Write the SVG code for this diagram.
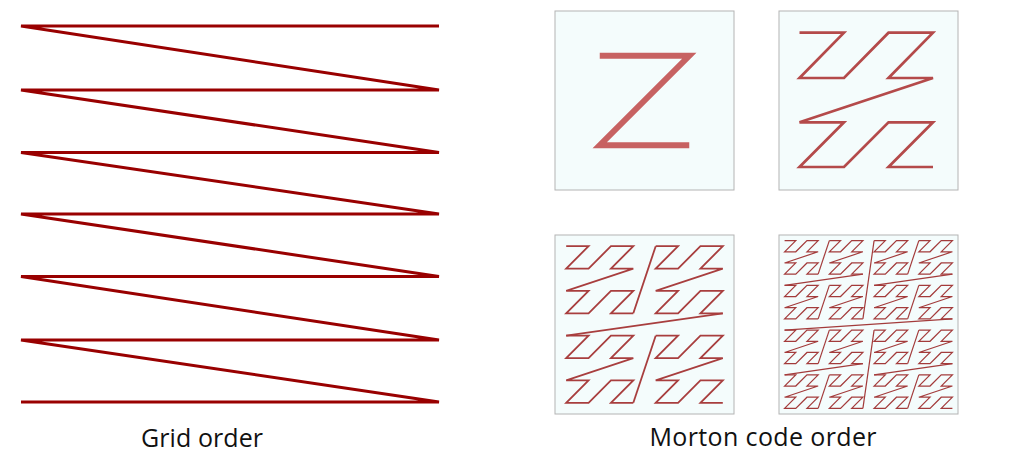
<svg xmlns="http://www.w3.org/2000/svg" xmlns:xlink="http://www.w3.org/1999/xlink" width="1012" height="456" viewBox="0 0 1012 456">
  <style>
    .grid { fill: none; stroke: #990000; stroke-width: 3; }
    .box { fill: #f4fcfc; stroke: #b4b4b4; stroke-width: 1; }
    .m1 { fill: none; stroke: #c76262; stroke-width: 6; stroke-linejoin: miter; }
    .m2 { fill: none; stroke: #b44a4a; stroke-width: 2.7; stroke-linejoin: miter; }
    .m3 { fill: none; stroke: #a83e3e; stroke-width: 1.8; stroke-linejoin: miter; }
    .m4 { fill: none; stroke: #a33b3b; stroke-width: 1.2; stroke-linejoin: miter; }
    .label { font-family: "Open Sans", "Noto Sans", "Liberation Sans", sans-serif; font-size: 25px; fill: #111111; }
  </style>
  <defs>
    <polyline id="b3" points="0,0 22.375,0 0,22.375 22.375,22.375 44.75,0 67.125,0 44.75,22.375 67.125,22.375 0,44.75 22.375,44.75 0,67.125 22.375,67.125 44.75,44.75 67.125,44.75 44.75,67.125 67.125,67.125"/>
    <polyline id="b4" points="0,0 11.1875,0 0,11.1875 11.1875,11.1875 22.375,0 33.5625,0 22.375,11.1875 33.5625,11.1875 0,22.375 11.1875,22.375 0,33.5625 11.1875,33.5625 22.375,22.375 33.5625,22.375 22.375,33.5625 33.5625,33.5625"/>
    <g id="g4">
      <use xlink:href="#b4"/>
      <use xlink:href="#b4" x="44.75"/>
      <use xlink:href="#b4" y="44.75"/>
      <use xlink:href="#b4" x="44.75" y="44.75"/>
      <line x1="33.5625" y1="33.5625" x2="44.75" y2="0"/>
      <line x1="78.3125" y1="33.5625" x2="0" y2="44.75"/>
      <line x1="33.5625" y1="78.3125" x2="44.75" y2="44.75"/>
    </g>
  </defs>
  <rect width="1012" height="456" fill="#ffffff"/>

  <g id="grid-order">
    <polyline class="grid" points="439,26 21,26 439,90 21,90 439,152.5 21,152.5 439,214 21,214 439,276.5 21,276.5 439,340 21,340 439,402 21,402"/>
    <text class="label" x="202" y="447" text-anchor="middle" textLength="122">Grid order</text>
  </g>

  <g id="morton-1">
    <rect class="box" x="555" y="11" width="179" height="179"/>
    <polyline class="m1" points="599.75,55.75 689.25,55.75 599.75,145.25 689.25,145.25"/>
  </g>

  <g id="morton-2">
    <rect class="box" x="779" y="11" width="179" height="179"/>
    <polyline class="m2" points="799.5,32.7 844,32.7 799.5,78 844,78 888.5,32.7 933,32.7 888.5,78 933,78 799.5,122.3 844,122.3 799.5,167 844,167 888.5,122.3 933,122.3 888.5,167 933,167"/>
  </g>

  <g id="morton-3">
    <rect class="box" x="555" y="235" width="179" height="179"/>
    <g class="m3" transform="translate(566.19,246.19)">
      <use xlink:href="#b3"/>
      <use xlink:href="#b3" x="89.5"/>
      <use xlink:href="#b3" y="89.5"/>
      <use xlink:href="#b3" x="89.5" y="89.5"/>
      <line x1="67.125" y1="67.125" x2="89.5" y2="0"/>
      <line x1="156.625" y1="67.125" x2="0" y2="89.5"/>
      <line x1="67.125" y1="156.625" x2="89.5" y2="89.5"/>
    </g>
  </g>

  <g id="morton-4">
    <rect class="box" x="779" y="235" width="179" height="179"/>
    <g class="m4" transform="translate(784.59,240.59)">
      <use xlink:href="#g4"/>
      <use xlink:href="#g4" x="89.5"/>
      <use xlink:href="#g4" y="89.5"/>
      <use xlink:href="#g4" x="89.5" y="89.5"/>
      <line x1="78.3125" y1="78.3125" x2="89.5" y2="0"/>
      <line x1="167.8125" y1="78.3125" x2="0" y2="89.5"/>
      <line x1="78.3125" y1="167.8125" x2="89.5" y2="89.5"/>
    </g>
  </g>

  <text class="label" x="763" y="446" text-anchor="middle" textLength="227">Morton code order</text>
</svg>
